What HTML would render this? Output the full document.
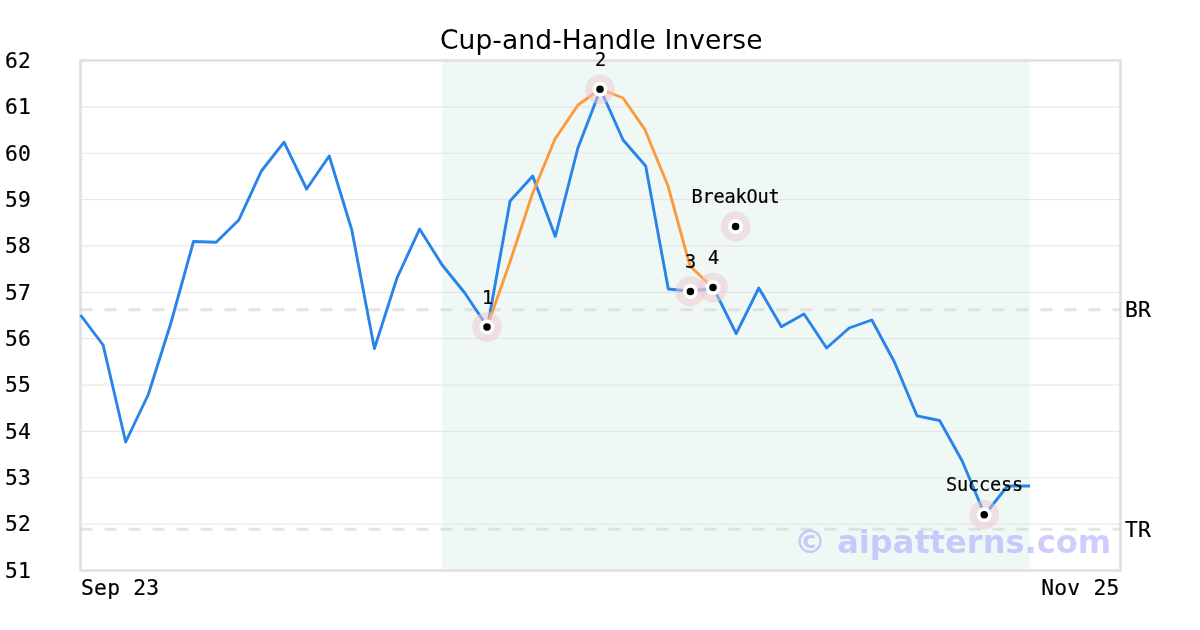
<!DOCTYPE html>
<html lang="en">
<head>
<meta charset="utf-8">
<title>Cup-and-Handle Inverse</title>
<style>
html,body{margin:0;padding:0;background:#fff;}
body{width:1200px;height:630px;overflow:hidden;}
svg{display:block;}
.mono{font-family:"DejaVu Sans Mono","Liberation Mono",monospace;fill:#000;stroke:#000;stroke-width:0.2px;}
.sans{font-family:"DejaVu Sans","Liberation Sans",sans-serif;fill:#000;}
</style>
</head>
<body>
<svg width="1200" height="630" viewBox="0 0 1200 630">
<rect x="0" y="0" width="1200" height="630" fill="#ffffff"/>
<rect x="442.3" y="60.5" width="587.3" height="510.0" fill="#f0f8f6"/>
<line x1="80.5" x2="1120.5" y1="524.14" y2="524.14" stroke="#d8d8d8" stroke-opacity="0.6" stroke-width="1.2"/>
<line x1="80.5" x2="1120.5" y1="477.77" y2="477.77" stroke="#d8d8d8" stroke-opacity="0.6" stroke-width="1.2"/>
<line x1="80.5" x2="1120.5" y1="431.41" y2="431.41" stroke="#d8d8d8" stroke-opacity="0.6" stroke-width="1.2"/>
<line x1="80.5" x2="1120.5" y1="385.05" y2="385.05" stroke="#d8d8d8" stroke-opacity="0.6" stroke-width="1.2"/>
<line x1="80.5" x2="1120.5" y1="338.68" y2="338.68" stroke="#d8d8d8" stroke-opacity="0.6" stroke-width="1.2"/>
<line x1="80.5" x2="1120.5" y1="292.32" y2="292.32" stroke="#d8d8d8" stroke-opacity="0.6" stroke-width="1.2"/>
<line x1="80.5" x2="1120.5" y1="245.95" y2="245.95" stroke="#d8d8d8" stroke-opacity="0.6" stroke-width="1.2"/>
<line x1="80.5" x2="1120.5" y1="199.59" y2="199.59" stroke="#d8d8d8" stroke-opacity="0.6" stroke-width="1.2"/>
<line x1="80.5" x2="1120.5" y1="153.23" y2="153.23" stroke="#d8d8d8" stroke-opacity="0.6" stroke-width="1.2"/>
<line x1="80.5" x2="1120.5" y1="106.86" y2="106.86" stroke="#d8d8d8" stroke-opacity="0.6" stroke-width="1.2"/>
<rect x="80.5" y="60.5" width="1040.0" height="510.0" fill="none" stroke="#e0e0e0" stroke-width="2.6"/>
<line x1="80.5" x2="1120.5" y1="309.75" y2="309.75" stroke="#d2d2d2" stroke-opacity="0.6" stroke-width="2.9" stroke-dasharray="12 12"/>
<line x1="80.5" x2="1120.5" y1="529.3" y2="529.3" stroke="#d2d2d2" stroke-opacity="0.6" stroke-width="2.9" stroke-dasharray="12 12"/>
<text class="sans" x="1111.3" y="553" text-anchor="end" font-size="32.1" font-weight="bold" style="fill:#a4a4ff;fill-opacity:0.55">© aipatterns.com</text>
<polyline points="80.5,315.0 103.1,345.0 125.7,442.0 148.3,394.5 170.9,323.0 193.5,241.5 216.2,242.3 238.8,220.0 261.4,171.0 284.0,142.2 306.6,189.0 329.2,156.0 351.8,230.0 374.4,348.6 397.0,278.0 419.6,229.0 442.2,265.0 464.8,293.0 487.5,327.0 510.1,201.0 532.7,176.0 555.3,236.5 577.9,148.0 600.5,89.3 623.1,140.0 645.7,166.0 668.3,289.0 690.9,291.3 713.5,288.0 736.2,333.7 758.8,288.0 781.4,326.7 804.0,314.0 826.6,348.0 849.2,328.0 871.8,320.0 894.4,362.0 917.0,415.8 939.6,420.5 962.2,461.0 984.8,514.8 1007.5,486.0 1030.1,486.0" fill="none" stroke="#2884e8" stroke-width="2.9" stroke-linejoin="round" stroke-linecap="butt"/>
<polyline points="487.0,327.0 510.0,262.0 532.0,195.0 555.0,139.0 578.0,105.0 600.0,89.0 623.0,98.0 645.0,129.7 668.0,186.0 690.0,266.0 713.0,288.0" fill="none" stroke="#fd9a3c" stroke-width="2.9" stroke-linejoin="round" stroke-linecap="butt"/>
<circle cx="487" cy="327" r="14.9" fill="#ecc6d0" fill-opacity="0.5"/><circle cx="487" cy="327" r="7.5" fill="#fff"/><circle cx="487" cy="327" r="3.75" fill="#000"/>
<circle cx="600" cy="89.3" r="14.9" fill="#ecc6d0" fill-opacity="0.5"/><circle cx="600" cy="89.3" r="7.5" fill="#fff"/><circle cx="600" cy="89.3" r="3.75" fill="#000"/>
<circle cx="690.4" cy="291.4" r="14.9" fill="#ecc6d0" fill-opacity="0.5"/><circle cx="690.4" cy="291.4" r="7.5" fill="#fff"/><circle cx="690.4" cy="291.4" r="3.75" fill="#000"/>
<circle cx="713" cy="287.6" r="14.9" fill="#ecc6d0" fill-opacity="0.5"/><circle cx="713" cy="287.6" r="7.5" fill="#fff"/><circle cx="713" cy="287.6" r="3.75" fill="#000"/>
<circle cx="735.6" cy="226.5" r="14.9" fill="#ecc6d0" fill-opacity="0.5"/><circle cx="735.6" cy="226.5" r="7.5" fill="#fff"/><circle cx="735.6" cy="226.5" r="3.75" fill="#000"/>
<circle cx="984.2" cy="514.8" r="14.9" fill="#ecc6d0" fill-opacity="0.5"/><circle cx="984.2" cy="514.8" r="7.5" fill="#fff"/><circle cx="984.2" cy="514.8" r="3.75" fill="#000"/>
<text class="mono" x="487.5" y="304" text-anchor="middle" font-size="18.6" letter-spacing="-0.18">1</text>
<text class="mono" x="600.5" y="66" text-anchor="middle" font-size="18.6" letter-spacing="-0.18">2</text>
<text class="mono" x="690.5" y="268" text-anchor="middle" font-size="18.6" letter-spacing="-0.18">3</text>
<text class="mono" x="713.5" y="264" text-anchor="middle" font-size="18.6" letter-spacing="-0.18">4</text>
<text class="mono" x="735.5" y="203" text-anchor="middle" font-size="18.6" letter-spacing="-0.18">BreakOut</text>
<text class="mono" x="984.5" y="491" text-anchor="middle" font-size="18.6" letter-spacing="-0.18">Success</text>
<text class="mono" x="4.9" y="577.80" font-size="21.3" letter-spacing="0.25">51</text>
<text class="mono" x="4.9" y="531.44" font-size="21.3" letter-spacing="0.25">52</text>
<text class="mono" x="4.9" y="485.07" font-size="21.3" letter-spacing="0.25">53</text>
<text class="mono" x="4.9" y="438.71" font-size="21.3" letter-spacing="0.25">54</text>
<text class="mono" x="4.9" y="392.35" font-size="21.3" letter-spacing="0.25">55</text>
<text class="mono" x="4.9" y="345.98" font-size="21.3" letter-spacing="0.25">56</text>
<text class="mono" x="4.9" y="299.62" font-size="21.3" letter-spacing="0.25">57</text>
<text class="mono" x="4.9" y="253.25" font-size="21.3" letter-spacing="0.25">58</text>
<text class="mono" x="4.9" y="206.89" font-size="21.3" letter-spacing="0.25">59</text>
<text class="mono" x="4.9" y="160.53" font-size="21.3" letter-spacing="0.25">60</text>
<text class="mono" x="4.9" y="114.16" font-size="21.3" letter-spacing="0.25">61</text>
<text class="mono" x="4.9" y="67.80" font-size="21.3" letter-spacing="0.25">62</text>
<text class="mono" x="81" y="594.5" font-size="21.3" letter-spacing="0.25">Sep 23</text>
<text class="mono" x="1119.6" y="594.5" text-anchor="end" font-size="21.3" letter-spacing="0.25">Nov 25</text>
<text class="mono" x="1125" y="316.8" font-size="21.3" letter-spacing="0.25">BR</text>
<text class="mono" x="1125" y="536.6" font-size="21.3" letter-spacing="0.25">TR</text>
<text class="sans" x="601.3" y="48.6" text-anchor="middle" font-size="26.5" letter-spacing="0.1">Cup-and-Handle Inverse</text>
</svg>
</body>
</html>
